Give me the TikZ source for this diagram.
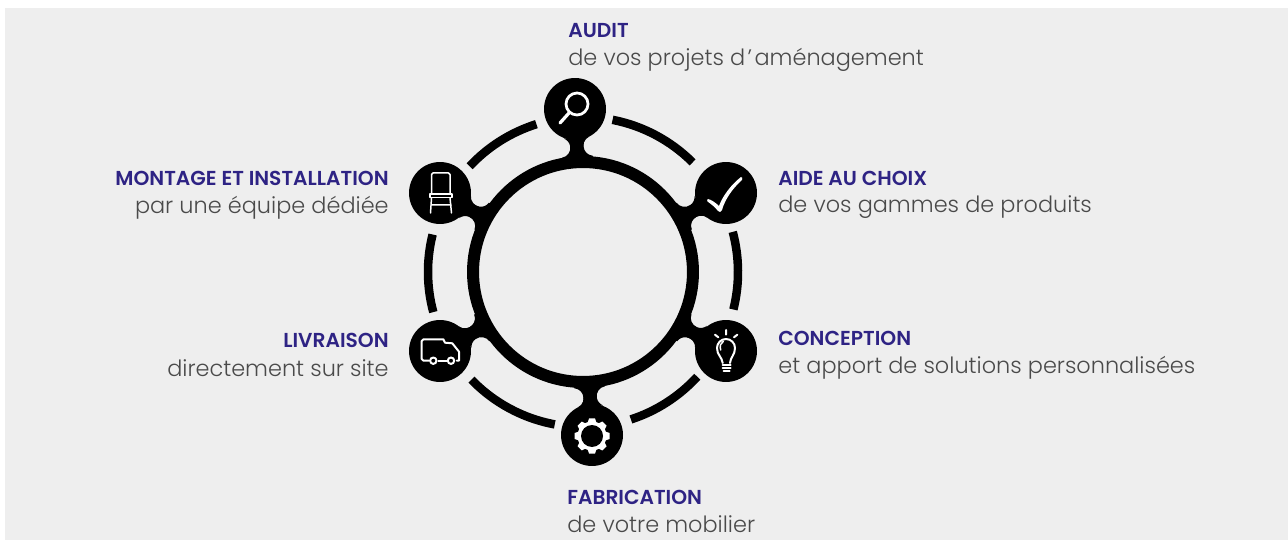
\documentclass[tikz,border=0pt]{standalone}
\usepackage{fontspec}
\setmainfont{Poppins Light}
\newfontfamily\titlefont{Poppins SemiBold}
\definecolor{panel}{HTML}{EEEEEE}
\definecolor{indigo}{HTML}{2E2384}
\definecolor{greytext}{HTML}{4A4A4A}

\begin{document}
\begin{tikzpicture}[x=.02cm,y=.02cm]

\tikzset{hubring/.style = {shape=circle,draw=black,line width=.24cm,minimum size=4.4cm,inner sep=0pt}}
\tikzset{vertex/.style = {shape=circle,fill=black,minimum size=1.24cm,inner sep=0pt}}
\tikzset{neck/.style = {line width=.26cm,black}}
\tikzset{segment/.style = {line width=.17cm,black}}
\tikzset{icon/.style = {draw=white,line width=.04cm,line cap=round,line join=round}}
\tikzset{heading/.style = {text=indigo,font=\titlefont\fontsize{11.5}{13}\selectfont,inner sep=0pt}}
\tikzset{subtext/.style = {text=greytext,font=\fontsize{12.75}{14}\selectfont,inner sep=0pt}}

%background
\fill[white] (0,0) rectangle (1288,-540);
\fill[panel] (5,-8) rectangle (1288,-540);

%verticies
\node[hubring] (hub) at (583,-272) {};
\node[vertex] (audit) at (575,-109) {};
\node[vertex] (choix) at (726,-193) {};
\node[vertex] (conception) at (726,-351) {};
\node[vertex] (fabrication) at (592,-435) {};
\node[vertex] (livraison) at (440,-351) {};
\node[vertex] (montage) at (440,-193) {};

%necks
\foreach \nd/\ang in {audit/-87,choix/209,conception/151,fabrication/93,livraison/29,montage/-29}{
  \draw[neck] (\nd) -- (hub);
  \begin{scope}[shift={(\nd)},rotate=\ang]
    \fill[black] (28.4,12.5) arc[start angle=203.6,end angle=352.6,radius=10]
      -- (52,15.4) -- (52,-15.4) -- (48,-15.4)
      arc[start angle=7.4,end angle=156.4,radius=10] -- cycle;
  \end{scope}
}

%outer arcs
\foreach \a/\b in {79/45,15/-14,-42.5/-72,259.5/224,195/166,137/107.5}{
  \draw[segment] (hub.center) ++(\a:155) arc[start angle=\a,end angle=\b,radius=155];
}

%icons
\draw[icon,line width=.055cm] (577,-104) circle (11);
\draw[icon,line width=.065cm] (569,-113) -- (560,-123);

\fill[white] (708,-199) .. controls (711,-199.5) and (716,-203) .. (719,-206)
  .. controls (723,-195) and (732,-184) .. (741,-177) .. controls (742,-176.5) and (743,-179) .. (742,-180)
  .. controls (733,-188) and (725,-199) .. (722,-210) .. controls (721,-212.5) and (719,-212.5) .. (718,-211)
  .. controls (715,-207) and (711,-204) .. (707.5,-201.5) .. controls (707,-200.5) and (707,-199.5) .. (708,-199) -- cycle;

\draw[icon,line width=.03cm] (431.5,-194) -- (431.5,-174.5) -- (433,-173) -- (448.5,-173) -- (450,-174.5) -- (450,-194);
\draw[icon,line width=.03cm,fill=black] (430,-194) rectangle (452,-197.5);
\draw[icon,line width=.03cm] (431.5,-198) -- (430.5,-213) (450,-198) -- (451.5,-213) (431,-205) -- (451,-205);

\draw[icon] (429,-360.7) -- (423.5,-360.7) -- (421.7,-359) -- (421.7,-341) -- (423.5,-339.3) -- (443.3,-339.3)
  -- (445,-342.7) -- (452.3,-343.3) -- (459,-351.7) -- (459,-360.7) -- (456.7,-360.7);
\draw[icon] (438.3,-360.7) -- (446.7,-360.7);
\draw[icon] (433.3,-360.7) circle (3.2) (451,-360.7) circle (3.2);

\draw[icon] (722.7,-363) .. controls (722,-357) and (717,-355) .. (717,-348)
  arc[start angle=180,end angle=0,radius=9] .. controls (735,-355) and (730.5,-357) .. (730,-363);
\draw[icon,line width=.03cm] (720.7,-350) .. controls (719.5,-346) and (720.5,-343) .. (723.3,-341.3);
\draw[icon] (722.5,-364.7) -- (730.5,-364.7) (722.5,-367.7) -- (730.5,-367.7) (723.5,-370.7) -- (729.5,-370.7);
\draw[icon] (726,-330) -- (726,-334.7) (715,-334.7) -- (718.3,-337.3) (737.3,-334.7) -- (734,-337.3);

\fill[white] (592,-436) circle (14.5);
\foreach \r in {0,45,...,315}{
  \fill[white,shift={(592,-436)},rotate=\r] (-4.5,13) -- (-3,17.5) -- (3,17.5) -- (4.5,13) -- cycle;
}
\fill[black] (592,-436) circle (11);

%labels
\node[heading,anchor=base west] (audit title) at (568,-38) {AUDIT};
\node[subtext,anchor=base west] (audit text) at (568,-66) {de vos projets d\hspace{.05cm}’\hspace{.05cm}aménagement};
\node[heading,anchor=base west] (choix title) at (778,-186) {AIDE AU CHOIX};
\node[subtext,anchor=base west] (choix text) at (778,-213) {de vos gammes de produits};
\node[heading,anchor=base west] (conception title) at (778,-346) {CONCEPTION};
\node[subtext,anchor=base west] (conception text) at (778,-374) {et apport de solutions personnalisées};
\node[heading,anchor=base west] (fabrication title) at (567,-504) {FABRICATION};
\node[subtext,anchor=base west] (fabrication text) at (567,-532) {de votre mobilier};
\node[heading,anchor=base east] (livraison title) at (389,-348) {LIVRAISON};
\node[subtext,anchor=base east] (livraison text) at (389,-376.5) {directement sur site};
\node[heading,anchor=base east] (montage title) at (389,-186) {MONTAGE ET INSTALLATION};
\node[subtext,anchor=base east] (montage text) at (389,-213.5) {par une équipe dédiée};
\end{tikzpicture}
\end{document}
